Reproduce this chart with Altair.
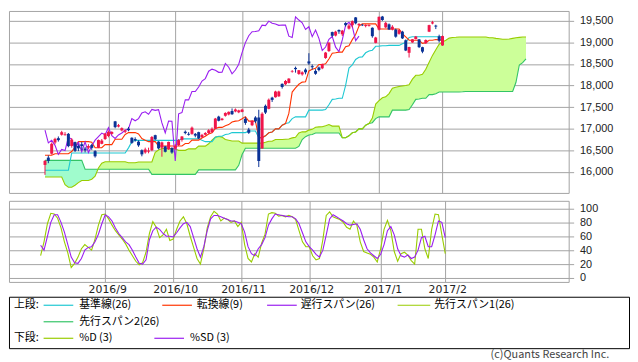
import altair as alt
import pandas as pd

# ---------------- data ----------------
OPEN = [16160,16330,16420,16680,16780,16860,16850,16880,16600,16690,
        16600,16640,16540,16560,16620,16480,16560,16650,16760,16830,
        16880,17170,17050,16960,16930,17000,16790,16760,16700,16500,
        16450,16470,16500,16850,16700,16560,16590,16520,16550,16540,
        16620,16740,16930,16880,16880,16880,16920,16800,16860,16900,
        16920,17000,17280,17200,17300,17330,17410,17400,17380,17390,
        17230,16980,17080,17260,17260,16540,17530,17460,17720,17730,
        17750,18040,18030,18060,18320,18410,18270,18260,18370,18560,
        18450,18340,18420,18400,18640,18800,19240,19160,19290,19190,
        19450,19320,19400,19580,19400,19410,19380,19380,19340,18990,
        19298,19600,19350,19420,19300,19300,19200,19250,19050,18760,
        19000,19080,19070,18890,18980,19250,19440,19390,19140,18930]
HIGH = [16270,16380,16680,16790,16820,16950,16920,16900,16780,16700,
        16640,16690,16580,16640,16650,16500,16750,16760,16900,16960,
        16940,17180,17110,17030,16980,17040,16800,16800,16730,16520,
        16560,16560,16830,16860,16710,16700,16600,16700,16570,16640,
        16760,16830,16960,16920,17050,16900,16930,16880,16920,16990,
        17030,17250,17300,17250,17380,17400,17470,17470,17440,17460,
        17270,17020,17200,17290,17440,17380,17560,17700,17740,17880,
        17880,18050,18130,18170,18360,18440,18360,18330,18400,18750,
        18490,18380,18440,18510,18780,19000,19250,19270,19300,19290,
        19470,19430,19510,19590,19450,19430,19420,19420,19350,19130,
        19600,19615,19480,19440,19400,19320,19300,19270,19070,18900,
        19080,19150,19080,18900,19070,19410,19500,19410,19180,19160]
LOW = [15930,16200,16400,16640,16700,16840,16840,16570,16560,16460,
       16480,16500,16450,16520,16510,16330,16550,16640,16740,16800,
       16860,17010,17030,16940,16900,16940,16650,16700,16580,16360,
       16420,16430,16480,16740,16520,16350,16450,16510,16420,16520,
       16600,16700,16870,16840,16860,16800,16760,16790,16840,16880,
       16900,16990,17170,17190,17280,17310,17320,17380,17360,17380,
       17090,16880,17060,17130,16111,16540,17340,17450,17620,17720,
       17740,17930,18010,18050,18300,18300,18250,18230,18260,18480,
       18370,18250,18330,18380,18620,18780,19130,19140,19200,19150,
       19370,19300,19350,19420,19380,19380,19350,19370,19110,18980,
       19280,19500,19330,19290,19280,19110,19180,19080,18800,18650,
       18990,19070,18870,18750,18970,19240,19420,19310,19000,18920]
CLOSE = [16254,16254,16650,16764,16735,16919,16869,16596,16745,16486,
         16545,16598,16497,16597,16556,16360,16737,16725,16887,16926,
         16925,17037,17081,17012,16958,16965,16672,16729,16614,16405,
         16519,16492,16807,16754,16544,16683,16465,16693,16449,16598,
         16735,16819,16899,16860,17024,16840,16774,16856,16900,16963,
         16998,17235,17184,17234,17365,17391,17336,17446,17425,17442,
         17134,16905,17177,17171,16251,17344,17374,17672,17668,17862,
         17862,17967,18106,18162,18333,18381,18356,18307,18308,18513,
         18426,18274,18360,18496,18765,18996,19155,19250,19253,19273,
         19401,19391,19494,19444,19427,19396,19403,19401,19145,19114,
         19594,19520,19454,19301,19364,19134,19287,19095,18813,18894,
         19072,19137,18891,18787,19057,19402,19467,19368,19041,19148]

TENKAN = ([16384]*3 + [16420]*5 + [16470, 16575] + [16700]*4 + [16685] + [16560]*3
          + [16630]*3 + [16755]*3 + [16865] + [16910]*3 + [16880, 16770, 16735] + [16700]*3
          + [16600]*8 + [16655]*2 + [16735]*3 + [16785, 16825, 16875, 16905, 17005]
          + [17030]*2 + [17070, 17095, 17155, 17175, 17185, 17230, 17280] + [17175]*3
          + [16790]*2 + [16835, 16905, 16925] + [16995]*2
          + [17080, 17120, 17355, 17850, 17945, 18030, 18080, 18090, 18340, 18380, 18400]
          + [18490]*2 + [18505, 18615, 18750, 18760] + [18775]*2 + [18900, 18925, 19065, 19185, 19380]
          + [19430]*5 + [19310]*7 + [19200, 19127] + [19051]*4 + [18978, 18993] + [19051]*2
          + [19067, 19060, 19050])
KIJUN = ([16038]*8 + [16437]*17 + [16556, 16700] + [16730]*14 + [16765]*6 + [16730]
         + [16700]*3 + [16800] + [16825]*2 + [16865, 16875] + [16910]*5 + [16945]*3
         + [16790]*2 + [16835, 16905, 16925] + [16995]*2 + [17080, 17120, 17140, 17235]
         + [17275]*4 + [17430]*5 + [17445, 17555, 17680, 17690] + [17705]*2
         + [18005, 18405, 18480, 18605, 18655, 18665, 18760, 18800, 18820, 18910, 18915]
         + [18922]*2 + [18932]*4 + [18972, 18997, 19117] + [19132]*10)
SPAN_A = ([15880]*6 + [15700] + [15644]*2 + [15690, 15750] + [15800]*3 + [15830, 15900, 16089, 16200]
          + [16235]*7 + [16211]*3 + [16229]*5 + [16453, 16506] + [16540]*4 + [16530] + [16498]*3
          + [16533]*3 + [16596]*3 + [16651, 16733, 16805, 16820, 16805, 16750, 16732] + [16715]*3
          + [16665]*7 + [16685] + [16710]*2 + [16750]*3 + [16757, 16762, 16787, 16802, 16902]
          + [16927]*2 + [16967, 16985, 17032, 17042, 17047, 17070, 17095] + [17060]*3 + [16790]*2
          + [16835, 16905, 16925] + [16995]*2 + [17080, 17120, 17247]
          + [17571, 17650, 17718, 17740, 17815, 17940, 17960, 17978, 17990, 18000, 18016, 18150,
             18238, 18238, 18260, 18380, 18540, 18700, 18830, 18960, 19010, 19050, 19100, 19115, 19120]
          + [19127]*9 + [19110]*2 + [19095, 19085] + [19073]*2 + [19080, 19095, 19110, 19118] + [19127]*2)
SPAN_B = ([16265]*12 + [16060]*20 + [15940]*14 + [16045]*12 + [16150, 16400] + [16545]*16
          + [16590, 16750, 16815, 16855, 16865] + [16900]*8 + [16790]*2 + [16835, 16905, 16925]
          + [16995]*2 + [17080, 17120, 17140, 17235] + [17275]*4 + [17430]*5
          + [17445, 17555, 17680, 17690] + [17705]*2 + [17790]*2 + [17810] + [17850]*7 + [17855]
          + [17863]*15 + [18077, 18477, 18532, 18617])
CHIKOU_SHIFT = 25

STOCH_D = [32,52,78,93,92,86,72,52,36,15, 21,30,42,48,44,40,56,76,91,92,
           85,76,68,62,56,49,40,32,24,19, 22,37,64,81,73,58,62,70,54,56,
           70,82,88,78,60,44,28,20,42,72, 88,96,92,82,86,84,80,82,74,80,
           48,28,23,35,30,50,63,92,94,93, 89,90,88,90,88,84,68,52,45,45,
           32,26,28,55,90,95,88,86,84,80, 73,70,82,76,52,38,36,34,30,23,
           42,70,83,68,38,24,35,37,33,25, 20,70,70,42,28,70,92,91,62,35]
STOCH_SD = [47,40,60,80,91,91,80,66,48,30, 22,21,28,40,44,45,52,63,78,91,
            88,82,72,64,58,52,48,40,30,21, 20,26,55,68,73,70,64,60,60,59,
            65,72,78,80,74,58,42,30,45,68, 85,90,90,88,86,84,82,82,80,78,
            66,45,35,32,42,48,58,76,85,92, 91,90,89,88,88,85,78,65,52,45,
            40,34,30,40,62,85,91,88,85,82, 78,76,77,78,70,55,42,36,32,28,
            34,48,68,74,62,42,32,30,33,28, 30,40,58,60,45,45,62,82,80,58]

MONTH_TICKS = [19, 39, 59, 79, 100, 119]
MONTH_LABELS = ["2016/9", "2016/10", "2016/11", "2016/12", "2017/1", "2017/2"]
PRICE_TICKS = [16000, 16500, 17000, 17500, 18000, 18500, 19000, 19500]
STOCH_TICKS = [0, 20, 40, 60, 80, 100]

LEGEND_TOP = [("基準線(26)", "#1ec8d2"), ("転換線(9)", "#ff3300"), ("遅行スパン(26)", "#9a1ef0"),
              ("先行スパン1(26)", "#99cc00"), ("先行スパン2(26)", "#33c466")]
LEGEND_BOTTOM = [("%D (3)", "#99cc00"), ("%SD (3)", "#9a1ef0")]
LEGEND_HEADERS = ["上段:", "下段:"]
COPYRIGHT = "(c)Quants Research Inc."

assert len(TENKAN) == 120 and len(KIJUN) == 120
assert len(SPAN_A) == 145 and len(SPAN_B) == 145

# ---------------- style ----------------
FONT = "Noto Sans CJK JP"
NUM_FONT = "Liberation Sans"
GRID = "#a3a3a3"
UP = "#f0154a"
DOWN = "#0a3296"
C_TENKAN = "#ff3300"
C_KIJUN = "#1ec8d2"
C_CHIKOU = "#9a1ef0"
C_SPANA = "#99cc00"
C_SPANB = "#33c466"
FILL_A = "#ccff99"
FILL_B = "#a0fccd"
W = 566

# ---------------- tables ----------------
n = len(CLOSE)
candles = pd.DataFrame({"i": range(n), "open": OPEN, "high": HIGH, "low": LOW, "close": CLOSE})
candles["dir"] = ["up" if c >= o else "down" for o, c in zip(OPEN, CLOSE)]
lines = pd.DataFrame({"i": range(n), "tenkan": TENKAN, "kijun": KIJUN})
chikou = pd.DataFrame({"i": [k - CHIKOU_SHIFT for k in range(CHIKOU_SHIFT, n)],
                       "v": CLOSE[CHIKOU_SHIFT:]})
cloud = pd.DataFrame({"i": range(len(SPAN_A)), "a": SPAN_A, "b": SPAN_B})
cloud_b = cloud[cloud["i"] <= 16]
cloud_a = cloud[cloud["i"] >= 16]
stoch = pd.DataFrame({"i": range(n), "d": STOCH_D, "sd": STOCH_SD})

XS = alt.Scale(domain=[-9.3, 155.3], nice=False, zero=False)
YS = alt.Scale(domain=[15511, 19730], nice=False, zero=False)
SS = alt.Scale(domain=[-5.7, 111], nice=False, zero=False)

up_xaxis = alt.Axis(values=MONTH_TICKS, grid=True, gridColor=GRID, labels=False, ticks=False,
                    domain=False, title=None)
up_yaxis = alt.Axis(orient="right", values=PRICE_TICKS, format=",.0f", grid=True, gridColor=GRID,
                    tickColor=GRID, tickSize=5, domain=False, labelPadding=6, labelFont=NUM_FONT,
                    labelFontSize=11, labelColor="#222222", title=None)

X = alt.X("i:Q", scale=XS, axis=up_xaxis)


def Y(field):
    return alt.Y(field, scale=YS, axis=up_yaxis)


candle_color = alt.Color("dir:N", scale=alt.Scale(domain=["up", "down"], range=[UP, DOWN]), legend=None)

upper = alt.layer(
    alt.Chart(cloud_b).mark_area(color=FILL_B, opacity=1).encode(x=X, y=Y("a:Q"), y2="b:Q"),
    alt.Chart(cloud_a).mark_area(color=FILL_A, opacity=1).encode(x=X, y=Y("a:Q"), y2="b:Q"),
    alt.Chart(cloud).mark_line(color=C_SPANB, strokeWidth=1.1).encode(x=X, y=Y("b:Q")),
    alt.Chart(cloud).mark_line(color=C_SPANA, strokeWidth=1.1).encode(x=X, y=Y("a:Q")),
    alt.Chart(lines).mark_line(color=C_KIJUN, strokeWidth=1.1).encode(x=X, y=Y("kijun:Q")),
    alt.Chart(lines).mark_line(color=C_TENKAN, strokeWidth=1.1).encode(x=X, y=Y("tenkan:Q")),
    alt.Chart(chikou).mark_line(color=C_CHIKOU, strokeWidth=1.1).encode(x=X, y=Y("v:Q")),
    alt.Chart(candles).mark_rule(strokeWidth=1).encode(x=X, y=Y("low:Q"), y2="high:Q", color=candle_color),
    alt.Chart(candles).mark_bar(size=3).encode(x=X, y=Y("open:Q"), y2="close:Q", color=candle_color),
).properties(width=W, height=184)

label_expr = " : ".join(f"datum.value == {t} ? '{l}'" for t, l in zip(MONTH_TICKS, MONTH_LABELS)) + " : ''"
lo_xaxis = alt.Axis(values=MONTH_TICKS, labelExpr=label_expr, grid=True, gridColor=GRID, ticks=False,
                    domain=False, labelPadding=2, labelFont="DejaVu Sans", labelFontSize=11,
                    labelColor="#222222", labelOffset=2, labelOverlap=False, labelFlush=False, title=None)
lo_yaxis = alt.Axis(orient="right", values=STOCH_TICKS, grid=True, gridColor=GRID, tickColor=GRID,
                    tickSize=5, domain=False, labelPadding=6, labelFont=NUM_FONT, labelFontSize=11,
                    labelColor="#222222", title=None)
XL = alt.X("i:Q", scale=XS, axis=lo_xaxis)

lower = alt.layer(
    alt.Chart(stoch).mark_line(color=C_SPANA, strokeWidth=1.1).encode(
        x=XL, y=alt.Y("d:Q", scale=SS, axis=lo_yaxis)),
    alt.Chart(stoch).mark_line(color=C_CHIKOU, strokeWidth=1.1).encode(
        x=XL, y=alt.Y("sd:Q", scale=SS, axis=lo_yaxis)),
).properties(width=W, height=82)

# ---------------- legend box (layout in pixels, inside the box) ----------------
ROW_Y = [8.6, 25.3, 42]
TOP_POS = [(35, 65, 71, 0), (155, 185, 190, 0), (261, 291, 295, 0), (393, 426, 430, 0), (35, 65, 71, 1)]
BOT_POS = [(35, 65, 71), (147, 177, 183)]
rows = []
for (lab, col), (x0, x1, tx, r) in zip(LEGEND_TOP, TOP_POS):
    rows.append({"label": lab, "color": col, "x0": x0, "x1": x1, "tx": tx, "y": ROW_Y[r]})
for (lab, col), (x0, x1, tx) in zip(LEGEND_BOTTOM, BOT_POS):
    rows.append({"label": lab, "color": col, "x0": x0, "x1": x1, "tx": tx, "y": ROW_Y[2]})
leg = pd.DataFrame(rows)
hdr = pd.DataFrame({"label": LEGEND_HEADERS, "tx": [5, 5], "y": [ROW_Y[0], ROW_Y[2]]})

legend = alt.layer(
    alt.Chart(leg).mark_rule(strokeWidth=1.2).encode(
        x=alt.X("x0:Q", scale=None, axis=None), x2="x1:Q",
        y=alt.Y("y:Q", scale=None, axis=None), color=alt.Color("color:N", scale=None)),
    alt.Chart(leg).mark_text(align="left", baseline="middle", font=FONT, fontSize=11, color="#000000").encode(
        x=alt.X("tx:Q", scale=None, axis=None), y=alt.Y("y:Q", scale=None, axis=None), text="label:N"),
    alt.Chart(hdr).mark_text(align="left", baseline="middle", font=FONT, fontSize=11, color="#000000").encode(
        x=alt.X("tx:Q", scale=None, axis=None), y=alt.Y("y:Q", scale=None, axis=None), text="label:N"),
    alt.Chart(pd.DataFrame({"t": [COPYRIGHT]})).mark_text(
        align="right", baseline="alphabetic", font=FONT, fontSize=11, color="#444444").encode(
        x=alt.value(607), y=alt.value(62), text="t:N"),
).properties(width=627, height=52, view=alt.ViewBackground(stroke="#000000", strokeWidth=1))

chart = alt.vconcat(
    alt.vconcat(upper, lower, spacing=6),
    legend,
    spacing=0,
).properties(padding=0, background="white").configure_view(stroke=GRID)

chart.save("out.html", embed_options={"renderer": "svg", "actions": False})
